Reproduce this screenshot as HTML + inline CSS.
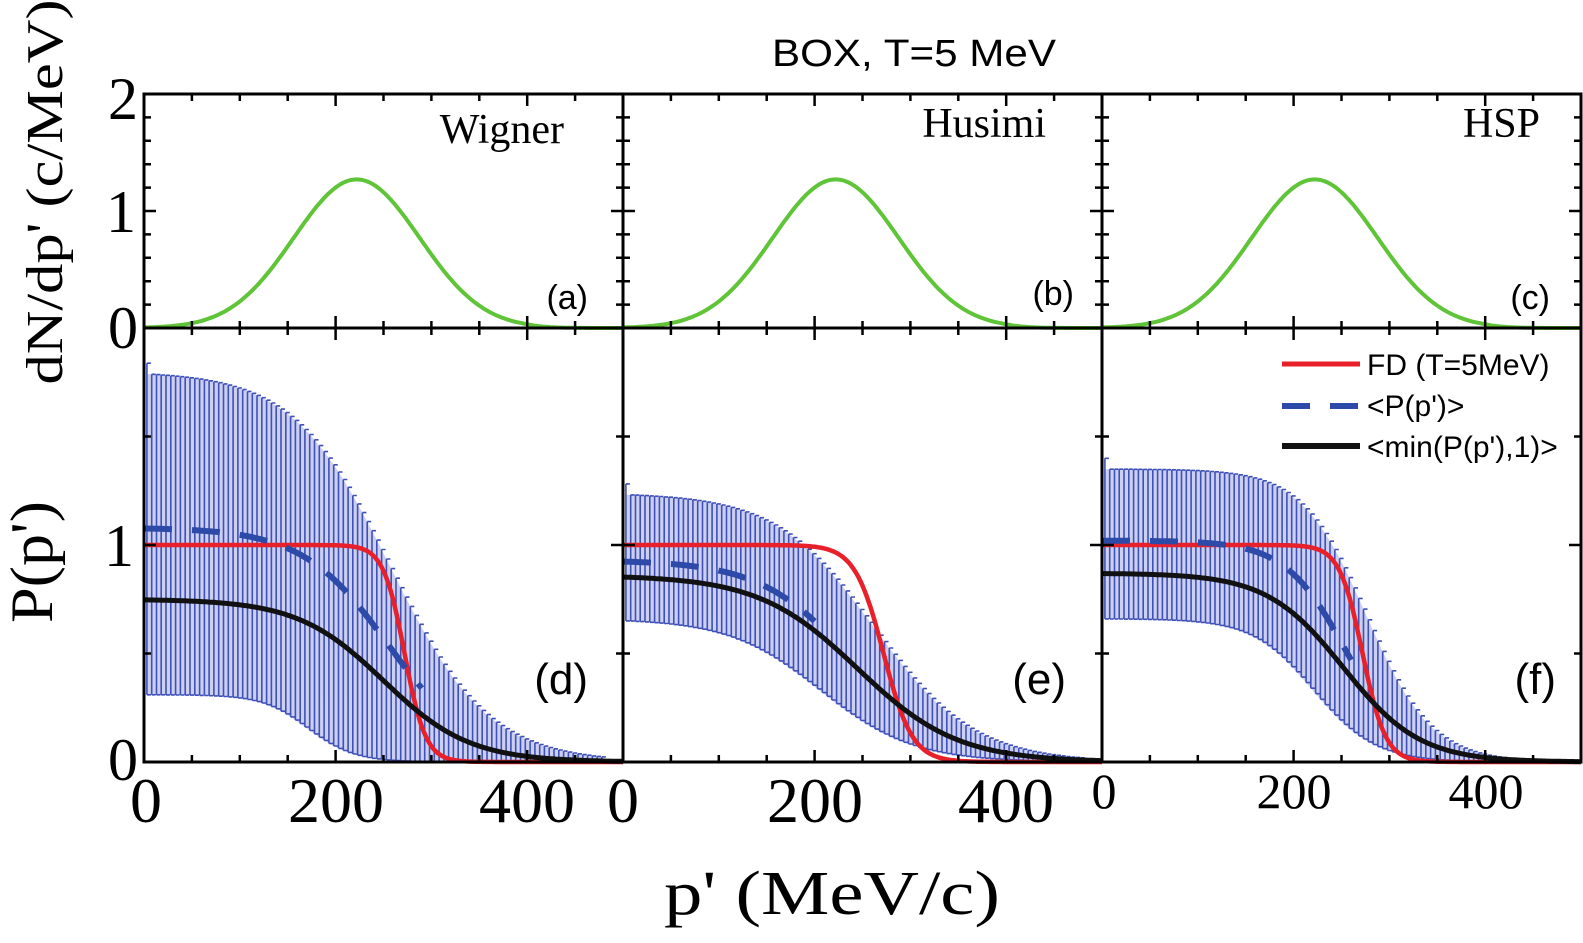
<!DOCTYPE html>
<html><head><meta charset="utf-8"><style>
html,body{margin:0;padding:0;background:#fff;}
svg{display:block;}
.serif{font-family:"Liberation Serif",serif;fill:#000;}
.sans{font-family:"Liberation Sans",sans-serif;fill:#000;}
</style></head><body>
<svg id="s" width="1583" height="943" viewBox="0 0 1583 943" xmlns="http://www.w3.org/2000/svg">
<text class="sans" x="914" y="66" font-size="38" text-anchor="middle" textLength="284" lengthAdjust="spacingAndGlyphs">BOX, T=5 MeV</text>
<g id="plots"></g>
<text class="serif" font-size="52" transform="translate(62,192) rotate(-90)" text-anchor="middle" textLength="385" lengthAdjust="spacingAndGlyphs">dN/dp' (c/MeV)</text>
<text class="serif" font-size="60" transform="translate(52,562) rotate(-90)" text-anchor="middle" textLength="122" lengthAdjust="spacingAndGlyphs">P(p')</text>
<text class="serif" font-size="62" x="832" y="914" text-anchor="middle" textLength="336" lengthAdjust="spacingAndGlyphs">p' (MeV/c)</text>
<text class="serif" font-size="60" x="138" y="119" text-anchor="end">2</text>
<text class="serif" font-size="60" x="136" y="232" text-anchor="end">1</text>
<text class="serif" font-size="60" x="138" y="348" text-anchor="end">0</text>
<text class="serif" font-size="60" x="134" y="566" text-anchor="end">1</text>
<text class="serif" font-size="60" x="138" y="780" text-anchor="end">0</text>
<text class="serif" font-size="64" x="146" y="822" text-anchor="middle">0</text>
<text class="serif" font-size="64" x="336" y="822" text-anchor="middle">200</text>
<text class="serif" font-size="64" x="527" y="822" text-anchor="middle">400</text>
<text class="serif" font-size="64" x="623" y="822" text-anchor="middle">0</text>
<text class="serif" font-size="64" x="815" y="822" text-anchor="middle">200</text>
<text class="serif" font-size="64" x="1006" y="822" text-anchor="middle">400</text>
<text class="serif" font-size="50" x="1104" y="808" text-anchor="middle">0</text>
<text class="serif" font-size="50" x="1294" y="808" text-anchor="middle">200</text>
<text class="serif" font-size="50" x="1486" y="808" text-anchor="middle">400</text>
<text class="serif" font-size="42" x="564" y="143" text-anchor="end">Wigner</text>
<text class="serif" font-size="42" x="1046" y="137" text-anchor="end">Husimi</text>
<text class="serif" font-size="42" x="1540" y="137" text-anchor="end">HSP</text>
<text class="sans" font-size="34" x="588" y="309" text-anchor="end">(a)</text>
<text class="sans" font-size="34" x="1074" y="305" text-anchor="end">(b)</text>
<text class="sans" font-size="34" x="1550" y="309" text-anchor="end">(c)</text>
<text class="sans" font-size="44" x="588" y="694" text-anchor="end">(d)</text>
<text class="sans" font-size="44" x="1066" y="694" text-anchor="end">(e)</text>
<text class="sans" font-size="44" x="1556" y="694" text-anchor="end">(f)</text>
<line x1="1282" y1="364" x2="1360" y2="364" stroke="#e8202a" stroke-width="5"/>
<line x1="1282" y1="406" x2="1360" y2="406" stroke="#2e4aa8" stroke-width="6" stroke-dasharray="28,20"/>
<line x1="1282" y1="446" x2="1360" y2="446" stroke="#111" stroke-width="6"/>
<text class="sans" font-size="30" x="1367" y="375">FD (T=5MeV)</text>
<text class="sans" font-size="30" x="1367" y="416">&lt;P(p')&gt;</text>
<text class="sans" font-size="30" x="1367" y="457">&lt;min(P(p'),1)&gt;</text>
</svg>
<script>
(function(){
var NS="http://www.w3.org/2000/svg",g=document.getElementById('plots');
function el(t,a){var e=document.createElementNS(NS,t);for(var k in a)e.setAttribute(k,a[k]);g.appendChild(e);return e;}
var X0=[144,623,1102],W=479,top=94,mid=328,bot=762;
function L(a,c,w){return function(p){return a/(1+Math.exp((p-c)/w));};}
var cfg=[
 {blk:L(0.75,250,45),blu:L(1.08,255,45),up:L(1.8,257,51),lo:L(0.31,170,24),red:L(1,272,11),bluEnd:290},
 {blk:L(0.86,245,52),blu:L(0.93,240,48),up:L(1.24,262,52),lo:L(0.66,205,48),red:L(1,272,15),bluEnd:200},
 {blk:L(0.87,252,40),blu:L(1.02,255,32),up:L(1.35,276,34),lo:L(0.66,220,32),red:L(1,272,12),bluEnd:260}
];
for(var i=0;i<3;i++){
 var x0=X0[i],sx=W/500;
 var px=function(p){return x0+p*sx;};
 var yt=function(v){return mid-v*117;}, yb=function(v){return bot-v*217;};
 var d="";
 for(var p=0;p<=500;p+=2){var v=1.27*Math.exp(-Math.pow((p-222)/93,2));if(p>400)v*=Math.max(0,(480-p)/80);d+=(p?"L":"M")+px(p).toFixed(1)+","+yt(v).toFixed(1);}
 el('path',{d:d,fill:"none",stroke:"#5fc437","stroke-width":4});
 var c=cfg[i];
 var up="",lo="";
 for(p=3;p<=480;p+=5){up+=(p==3?"M":"L")+px(p).toFixed(1)+","+yb(Math.min(2,c.up(p))).toFixed(1);}
 for(p=478;p>=3;p-=5){lo+="L"+px(p).toFixed(1)+","+yb(c.lo(p)).toFixed(1);}
 el('path',{d:up+lo+"Z",fill:"#ccd0f0",stroke:"none"});
 var bars="";
 for(p=3;p<=480;p+=5){var xx=px(p).toFixed(1),u=yb(Math.min(2,c.up(p)+(p<5?0.05:0))),l=yb(c.lo(p));
  bars+="M"+xx+","+u.toFixed(1)+"L"+xx+","+l.toFixed(1)+"M"+xx+","+u.toFixed(1)+"h4M"+xx+","+l.toFixed(1)+"h4";}
 el('path',{d:bars,fill:"none",stroke:"#3f50b8","stroke-width":1.6});
 function curve(f,st,sw,da,end){var s="";end=end||500;for(var p=0;p<=end;p+=2){s+=(p?"L":"M")+px(p).toFixed(1)+","+yb(f(p)).toFixed(1);}var a={d:s,fill:"none",stroke:st,"stroke-width":sw};if(da)a["stroke-dasharray"]=da;el('path',a);}
 curve(c.red,"#e8202a",4.5);
 curve(c.blu,"#2e4aa8",6,"28,20",c.bluEnd);
 curve(c.blk,"#111",5);
 var t="";
 for(p=50;p<500;p+=50){var xx=px(p),len=(p%200==0)?12:7;
  t+="M"+xx+","+top+"v"+len+"M"+xx+","+mid+"v-"+len+"M"+xx+","+mid+"v"+len+"M"+xx+","+bot+"v-"+len;}
 for(var v=0.2;v<2;v+=0.2){var y=yt(v),len=(Math.abs(v-1)<0.01)?12:7;t+="M"+x0+","+y+"h"+len+"M"+(x0+W)+","+y+"h-"+len;}
 for(v=0.5;v<2;v+=0.5){var y=yb(v),len=(Math.abs(v-1)<0.01)?12:7;t+="M"+x0+","+y+"h"+len+"M"+(x0+W)+","+y+"h-"+len;}
 el('path',{d:t,fill:"none",stroke:"#000","stroke-width":2.5});
 el('rect',{x:x0,y:top,width:W,height:mid-top,fill:"none",stroke:"#000","stroke-width":3});
 el('rect',{x:x0,y:mid,width:W,height:bot-mid,fill:"none",stroke:"#000","stroke-width":3});
}
})();
</script>
</body></html>
